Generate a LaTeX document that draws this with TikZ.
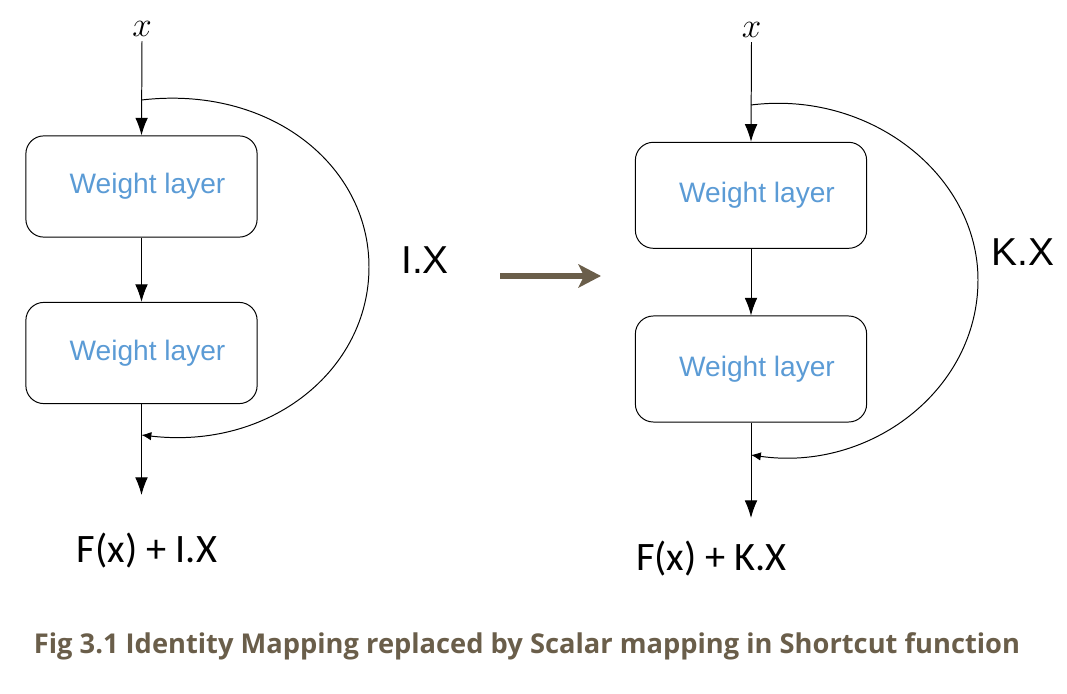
\documentclass[tikz,border=0pt]{standalone}
\usepackage{fontspec}
\setmainfont{Liberation Sans}
\newfontfamily\calibri{Carlito}
\newfontfamily\opensans{Open Sans}
\usepackage{tikz}
\usetikzlibrary{arrows.meta, positioning, calc}

\definecolor{layerblue}{RGB}{91,155,213}
\definecolor{capbrown}{RGB}{106,94,74}

\tikzset{
    layer/.style={draw, line width=0.7pt, rounded corners=0.45cm, minimum width=5.78cm, text=layerblue, font=\fontsize{20}{22}\selectfont},
    flow/.style={line width=0.7pt, -{Latex[length=12.5pt, width=9pt]}},
    skip/.style={line width=0.7pt, -{Latex[length=7pt, width=6pt]}},
    invar/.style={inner sep=3pt, font=\fontsize{27}{28}\selectfont},
    sumlabel/.style={anchor=base, font=\calibri\fontsize{28.7}{30}\selectfont},
    scalelabel/.style={font=\fontsize{27.7}{30}\selectfont}
}

\begin{document}
\begin{tikzpicture}[x=0.025cm, y=-0.025cm]
    \useasboundingbox (0,0) rectangle (1067,694);

    % identity shortcut
    \node[invar] (xl) at (142,29) {$x$};
    \node[layer, minimum height=2.53cm] (l1) at (141.5,186.5) {\hspace*{0.3cm}Weight layer};
    \node[layer, minimum height=2.53cm] (l2) at (141.5,353) {\hspace*{0.3cm}Weight layer};
    \coordinate (sl) at (141.5,100);
    \coordinate (el) at (141.5,435);
    \coordinate (ol) at (141.5,495);
    \draw[flow] (xl.south) -- (l1.north);
    \draw[flow] (l1) -- (l2);
    \draw[flow] (l2.south) -- (ol);
    \draw[skip] (sl) .. controls (270,85) and (369,165) .. (369,267) .. controls (369,370) and (270,450) .. (el);
    \node[scalelabel] (il) at (425,260) {I.X};
    \node[sumlabel] (fl) at (147,563) {F(x) + I.X};

    \draw[line width=3.6pt, capbrown, -{Stealth[length=16pt, width=16.5pt, inset=4pt]}] (500,276) -- (601,276);

    % scalar shortcut
    \node[invar] (xr) at (751.5,30) {$x$};
    \node[layer, minimum height=2.65cm] (r1) at (751,195.3) {\hspace*{0.3cm}Weight layer};
    \node[layer, minimum height=2.65cm] (r2) at (751,369) {\hspace*{0.3cm}Weight layer};
    \coordinate (sr) at (751,105);
    \coordinate (er) at (751,455);
    \coordinate (or) at (751,518);
    \draw[flow] (xr.south) -- (r1.north);
    \draw[flow] (r1) -- (r2);
    \draw[flow] (r2.south) -- (or);
    \draw[skip] (sr) .. controls (870,90) and (978,175) .. (978,280) .. controls (978,390) and (870,472) .. (er);
    \node[scalelabel] (kl) at (1023,252.5) {K.X};
    \node[sumlabel] (fr) at (711.5,571) {F(x) + K.X};

    \node[anchor=base, text=capbrown, font=\opensans\bfseries\fontsize{19.4}{21}\selectfont] (cap) at (527,653) {Fig 3.1 Identity Mapping replaced by Scalar mapping in Shortcut function};
\end{tikzpicture}
\end{document}
